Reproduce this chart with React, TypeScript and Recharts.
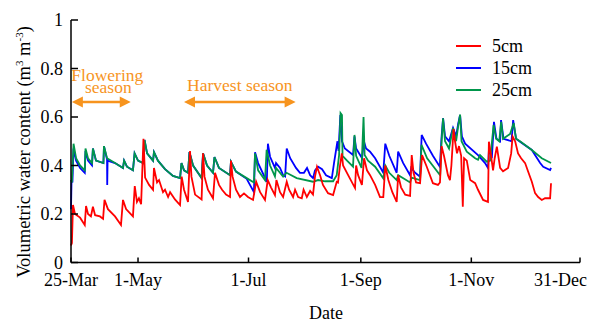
import React from 'react';
import { LineChart, Line, XAxis, YAxis, ReferenceLine, Legend } from 'recharts';

const FONT = 'Liberation Serif, Tinos, "DejaVu Serif", "Noto Serif", serif';

// x = days after 25-Mar
const xTickDays = [0, 37, 98, 160, 221, 281];
const xTickLabels = ['25-Mar', '1-May', '1-Jul', '1-Sep', '1-Nov', '31-Dec'];
const yTicks = [0, 0.2, 0.4, 0.6, 0.8, 1];

const depthNames = ['5cm', '15cm', '25cm'];
const depthColors = ['#FF0000', '#0000FF', '#00964B'];

const vwc5cm: [number, number][] = [
  [0, 0.07], [0.5, 0.08], [1.1, 0.237], [2.2, 0.2], [5, 0.185], [7.6, 0.155], [8.3, 0.233], [9.4, 0.2],
  [11, 0.19], [12.1, 0.23], [13.3, 0.195], [16, 0.19], [17.7, 0.18], [18.5, 0.258], [20.4, 0.22],
  [24.3, 0.19], [27.6, 0.155], [28.7, 0.258], [30.4, 0.22], [34.2, 0.19], [35.2, 0.315], [36.4, 0.25],
  [37.5, 0.265], [38.7, 0.24], [40, 0.51], [40.9, 0.35], [43.1, 0.32], [45.3, 0.3], [45.8, 0.39],
  [47.5, 0.33], [48.6, 0.34], [50.8, 0.29], [51.9, 0.3], [53.6, 0.27], [54.7, 0.29], [57.4, 0.26],
  [60.2, 0.237], [61.1, 0.354], [62.4, 0.3], [64.6, 0.25], [65.7, 0.46], [66.5, 0.354], [68.5, 0.28],
  [72.1, 0.26], [72.9, 0.45], [73.7, 0.354], [75.6, 0.3], [78.4, 0.265], [79.5, 0.37], [81.7, 0.32],
  [83.4, 0.3], [85.6, 0.28], [87.8, 0.27], [88.3, 0.42], [89.2, 0.354], [91.1, 0.3], [93.3, 0.27],
  [95.5, 0.285], [97.7, 0.27], [100.5, 0.258], [102.2, 0.333], [104.4, 0.29], [107.1, 0.258],
  [108.6, 0.34], [110.4, 0.31], [112.6, 0.278], [113.4, 0.34], [115.4, 0.29], [117.1, 0.27],
  [119.1, 0.333], [120.4, 0.3], [122.6, 0.27], [123.7, 0.3], [125.4, 0.27], [127.4, 0.265],
  [128.4, 0.3], [130.2, 0.27], [132, 0.295], [133.6, 0.28], [134.7, 0.354], [135.8, 0.395],
  [137.5, 0.36], [139.1, 0.32], [141.9, 0.286], [144.7, 0.278], [146.7, 0.333], [147.4, 0.33],
  [148.5, 0.4], [149.5, 0.45], [150.2, 0.4], [153, 0.36], [156.8, 0.307], [157.4, 0.4], [158.5, 0.36],
  [160.6, 0.32], [161.8, 0.43], [163.4, 0.38], [165.1, 0.36], [167.9, 0.32], [170.6, 0.27],
  [172.4, 0.27], [173.5, 0.4], [175.2, 0.34], [177.4, 0.29], [179.8, 0.25], [180.6, 0.36],
  [182.2, 0.31], [184.5, 0.28], [187.2, 0.275], [188.1, 0.443], [189.1, 0.37], [190.5, 0.33],
  [192.7, 0.327], [193.8, 0.443], [196.4, 0.395], [199.8, 0.327], [202.6, 0.32], [203.7, 0.33],
  [204.6, 0.48], [205.9, 0.44], [207, 0.4], [208.1, 0.36], [209.2, 0.34], [210, 0.4], [211.2, 0.55],
  [212, 0.5], [213.1, 0.45], [214.2, 0.48], [215.4, 0.44], [216.3, 0.23], [217, 0.43], [218.5, 0.42],
  [220.4, 0.34], [223.1, 0.327], [224.7, 0.3], [227.5, 0.258], [230.2, 0.25], [230.7, 0.498],
  [231.9, 0.44], [233, 0.38], [233.9, 0.43], [235.1, 0.478], [236.9, 0.39], [238.5, 0.376],
  [241.3, 0.39], [243, 0.45], [243.8, 0.52], [245.2, 0.5], [246.8, 0.45], [248.5, 0.43], [250.7, 0.41],
  [252.4, 0.374], [254.4, 0.333], [256.2, 0.286], [257.9, 0.27], [259.9, 0.258], [261.7, 0.265],
  [264.5, 0.265], [265, 0.327],
];

const vwc15cm: [number, number][] = [
  [0, 0.22], [0.3, 0.34], [0.8, 0.33], [1.4, 0.47], [2.8, 0.42], [5, 0.39], [7.6, 0.37], [8, 0.46],
  [9.4, 0.42], [11.6, 0.4], [12.1, 0.47], [13.8, 0.42], [17.9, 0.41], [18.2, 0.48], [19.9, 0.425],
  [20, 0.32], [20.2, 0.42], [24.3, 0.41], [28.7, 0.39], [29.3, 0.42], [30.9, 0.395], [34.2, 0.38],
  [35.1, 0.45], [37, 0.42], [39.8, 0.41], [40.6, 0.505], [42, 0.45], [45.3, 0.42], [45.8, 0.455],
  [48, 0.42], [51.9, 0.385], [56.3, 0.357], [60.2, 0.348], [61, 0.41], [62.4, 0.38], [64.6, 0.37],
  [65.4, 0.455], [67.4, 0.4], [72.1, 0.348], [72.9, 0.45], [75.1, 0.4], [78.4, 0.37], [79.2, 0.435],
  [81.7, 0.39], [87.8, 0.36], [88.3, 0.415], [91.1, 0.375], [97, 0.345], [98.8, 0.32], [101, 0.29],
  [101.6, 0.455], [103.3, 0.41], [108.1, 0.333], [108.7, 0.49], [109.9, 0.436], [112.6, 0.39],
  [113.2, 0.41], [115.4, 0.39], [117.1, 0.36], [118.2, 0.355], [119.1, 0.47], [121, 0.43],
  [124.2, 0.39], [126.4, 0.37], [128.6, 0.37], [130.3, 0.39], [132, 0.36], [133.6, 0.348],
  [134.7, 0.38], [136.4, 0.395], [138.6, 0.385], [140.8, 0.36], [144, 0.348], [145.2, 0.41],
  [147.1, 0.5], [147.7, 0.46], [148.7, 0.608], [149.6, 0.5], [151.2, 0.47], [155.7, 0.443],
  [156.5, 0.52], [157.4, 0.47], [160.7, 0.43], [161.7, 0.5], [162.9, 0.47], [165.1, 0.457],
  [167.9, 0.43], [172.4, 0.37], [173.5, 0.49], [175.7, 0.44], [179.8, 0.37], [180.6, 0.457],
  [183.4, 0.41], [187.2, 0.36], [187.8, 0.39], [190, 0.37], [192.7, 0.354], [193.6, 0.526],
  [196, 0.49], [199.8, 0.44], [203.6, 0.395], [204.6, 0.52], [205.4, 0.595], [206.5, 0.52],
  [208.7, 0.5], [210.9, 0.555], [212.6, 0.52], [213.7, 0.57], [214.8, 0.608], [215.8, 0.52],
  [217.6, 0.49], [224.7, 0.443], [228.6, 0.41], [230.2, 0.39], [230.7, 0.46], [232.4, 0.44],
  [233.5, 0.58], [234.9, 0.51], [236.9, 0.5], [237.4, 0.587], [238.8, 0.51], [243.2, 0.5],
  [244.1, 0.587], [245.7, 0.51], [247.9, 0.498], [254.4, 0.464], [259, 0.41], [260.7, 0.395],
  [264.5, 0.381], [265, 0.39],
];

const vwc25cm: [number, number][] = [
  [0, 0.34], [0.5, 0.33], [1.4, 0.49], [2.8, 0.43], [5, 0.4], [7.6, 0.38], [8, 0.47], [9.4, 0.43],
  [11.6, 0.41], [12.1, 0.47], [13.8, 0.42], [17.9, 0.41], [18.2, 0.48], [19.9, 0.43], [24.3, 0.41],
  [28.7, 0.39], [29.3, 0.42], [30.9, 0.395], [34.2, 0.38], [35.1, 0.45], [37, 0.42], [39.8, 0.41],
  [40.6, 0.505], [42, 0.45], [45.3, 0.42], [45.8, 0.455], [48, 0.42], [51.9, 0.385], [56.3, 0.357],
  [60.2, 0.348], [61, 0.41], [62.4, 0.38], [64.6, 0.37], [65.4, 0.455], [67.4, 0.4], [72.1, 0.348],
  [72.9, 0.45], [75.1, 0.4], [78.4, 0.37], [79.2, 0.435], [81.7, 0.39], [87.8, 0.36], [88.3, 0.415],
  [91.1, 0.375], [97, 0.348], [101, 0.33], [101.6, 0.45], [103.3, 0.38], [107.1, 0.34], [108, 0.465],
  [109.9, 0.4], [112.6, 0.355], [113.2, 0.39], [117.1, 0.354], [119, 0.37], [124.6, 0.348],
  [133.6, 0.333], [136.4, 0.34], [140.3, 0.335], [144.7, 0.335], [146.7, 0.36], [148, 0.443],
  [148.8, 0.616], [149.6, 0.608], [149.9, 0.44], [152.4, 0.42], [155.7, 0.395], [156.5, 0.526],
  [157.4, 0.44], [160.4, 0.39], [161.5, 0.6], [162.1, 0.443], [164, 0.42], [167.9, 0.395],
  [172.4, 0.347], [173.5, 0.4], [175.7, 0.37], [179.8, 0.34], [180.6, 0.36], [183.9, 0.345],
  [187.2, 0.33], [188, 0.35], [192.7, 0.34], [193.5, 0.485], [196.6, 0.43], [203.8, 0.36],
  [204.6, 0.5], [205.4, 0.595], [206.5, 0.5], [208.7, 0.47], [210.9, 0.555], [212.6, 0.5],
  [213.7, 0.56], [214.8, 0.61], [215.6, 0.5], [218.5, 0.457], [223.1, 0.43], [224.7, 0.424],
  [225.8, 0.443], [229.5, 0.416], [231.4, 0.42], [233.3, 0.567], [234.7, 0.51], [236.4, 0.5],
  [237.5, 0.58], [238.5, 0.51], [242.4, 0.53], [244.4, 0.575], [245.7, 0.51], [247.9, 0.5],
  [254.4, 0.464], [259.9, 0.43], [265, 0.41],
];

const seasonLabels = [['Flowering', 'season'], ['Harvest season']];
const seasonStart = [0.5, 62.4];
const seasonEnd = [33, 124];
const seasonLevel = 0.662;

const ORANGE = '#F7941E';

const toRows = (pts: [number, number][]) => pts.map(([day, v]) => ({ day, v }));

const seriesData = [vwc5cm, vwc15cm, vwc25cm];
const drawOrder = [1, 2, 0];

const makeArrow = (lines: string[]) => (props: any) => {
  const { x1, y1, x2 } = props;
  const y = y1;
  const head = 11;
  const half = 5.5;
  const mid = (x1 + x2) / 2;
  const two = lines.length > 1;
  return (
    <g>
      <line x1={x1 + head - 1} y1={y} x2={x2 - head + 1} y2={y} stroke={ORANGE} strokeWidth={2.5} />
      <polygon points={`${x1},${y} ${x1 + head},${y - half} ${x1 + head},${y + half}`} fill={ORANGE} />
      <polygon points={`${x2},${y} ${x2 - head},${y - half} ${x2 - head},${y + half}`} fill={ORANGE} />
      {two ? (
        <text fill={ORANGE} style={{ fontFamily: FONT }} fontSize={17.5} textAnchor="middle">
          <tspan x={mid + 6} y={y - 21}>{lines[0]}</tspan>
          <tspan x={mid + 7} y={y - 8.5}>{lines[1]}</tspan>
        </text>
      ) : (
        <text fill={ORANGE} style={{ fontFamily: FONT }} fontSize={17.5} textAnchor="middle" x={mid} y={y - 11}>
          {lines[0]}
        </text>
      )}
    </g>
  );
};

const DateTick = (props: any) => {
  const { x, y, payload, index } = props;
  const i = xTickDays.indexOf(payload.value);
  const label = i >= 0 ? xTickLabels[i] : String(payload.value);
  const last = index === xTickDays.length - 1;
  return (
    <text
      x={last ? x + 7 : x}
      y={y}
      dy="0.71em"
      textAnchor={last ? 'end' : 'middle'}
      fill="#000"
      style={{ fontFamily: FONT }}
      fontSize={18}
    >
      {label}
    </text>
  );
};

const YTick = (props: any) => {
  const { x, y, payload } = props;
  return (
    <text x={x} y={y} dy="0.355em" textAnchor="end" fill="#000" style={{ fontFamily: FONT }} fontSize={18}>
      {String(payload.value)}
    </text>
  );
};

const LegendBox = () => (
  <div style={{ fontFamily: FONT, fontSize: 18, color: '#000', lineHeight: '22px' }}>
    {depthNames.map((n, i) => (
      <div key={n} style={{ display: 'flex', alignItems: 'center', height: 22 }}>
        <svg width={36} height={22} style={{ display: 'block' }}>
          <line x1={0} y1={11} x2={25} y2={11} stroke={depthColors[i]} strokeWidth={2} />
        </svg>
        <span>{n}</span>
      </div>
    ))}
  </div>
);

export default function App() {
  return (
    <div style={{ position: 'absolute', left: 0, top: 0, width: 608, height: 324, background: '#fff', fontFamily: FONT }}>
      <LineChart width={608} height={324} margin={{ top: 20, right: 28, bottom: 31.5, left: 11 }}>
        <XAxis
          type="number"
          dataKey="day"
          domain={[0, 281]}
          ticks={xTickDays}
          interval={0}
          height={30}
          tickSize={-5}
          tickMargin={16}
          axisLine={{ stroke: '#000', strokeWidth: 1.5 }}
          tickLine={{ stroke: '#000', strokeWidth: 1.5 }}
          tick={(p: any) => <DateTick {...p} />}
        />
        <YAxis
          type="number"
          domain={[0, 1]}
          ticks={yTicks}
          interval={0}
          width={60}
          tickSize={-7}
          tickMargin={15}
          axisLine={{ stroke: '#000', strokeWidth: 1.5 }}
          tickLine={{ stroke: '#000', strokeWidth: 1.5 }}
          tick={(p: any) => <YTick {...p} />}
        />
        {seasonLabels.map((lab, i) => (
          <ReferenceLine
            key={lab[0]}
            segment={[{ x: seasonStart[i], y: seasonLevel }, { x: seasonEnd[i], y: seasonLevel }]}
            stroke={ORANGE}
            shape={makeArrow(lab)}
          />
        ))}
        {drawOrder.map((i) => (
          <Line
            key={depthNames[i]}
            name={depthNames[i]}
            data={toRows(seriesData[i])}
            dataKey="v"
            type="linear"
            stroke={depthColors[i]}
            strokeWidth={1.8}
            dot={false}
            activeDot={false}
            isAnimationActive={false}
          />
        ))}
        <Legend
          layout="vertical"
          align="center"
          verticalAlign="middle"
          wrapperStyle={{ left: 456, top: 35, width: 'auto', height: 'auto' }}
          content={() => <LegendBox />}
        />
      </LineChart>
      <div
        style={{
          position: 'absolute',
          left: 24,
          top: 152,
          transform: 'translate(-50%, -50%) rotate(-90deg)',
          whiteSpace: 'nowrap',
          fontFamily: FONT,
          fontSize: 18.5,
          color: '#000',
          lineHeight: 1,
        }}
      >
        Volumetric water content (m<sup style={{ fontSize: 11 }}>3</sup> m<sup style={{ fontSize: 11 }}>-3</sup>)
      </div>
      <div
        style={{
          position: 'absolute',
          left: 326,
          top: 313,
          transform: 'translate(-50%, -50%)',
          whiteSpace: 'nowrap',
          fontFamily: FONT,
          fontSize: 18,
          color: '#000',
          lineHeight: 1,
        }}
      >
        Date
      </div>
    </div>
  );
}
